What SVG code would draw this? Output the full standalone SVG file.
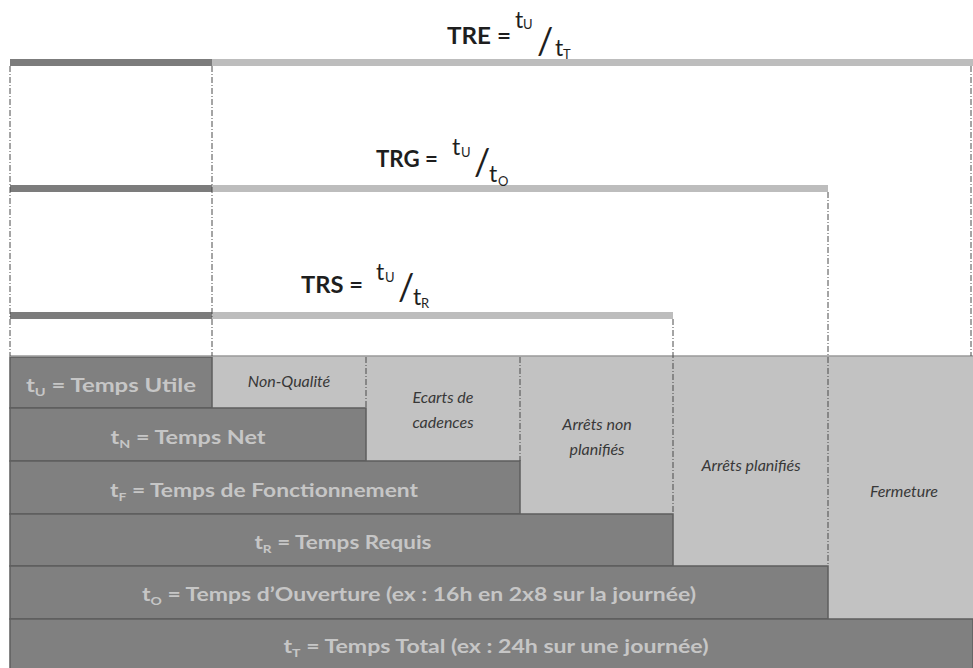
<svg xmlns="http://www.w3.org/2000/svg" width="973" height="668" viewBox="0 0 973 668">
<defs>
<style>
.bg{fill:#ffffff}
.bard{fill:#7c7c7c}
.barl{fill:#bdbdbd}
.dark{fill:#808080;stroke:#5e5e5e;stroke-width:1.5}
.light{fill:#c2c2c2}
.dl{stroke:#4a4a4a;stroke-width:1;stroke-dasharray:6 2 1 2;fill:none}
.lbl{font-family:Lato,"Open Sans","Liberation Sans",sans-serif;font-weight:bold;font-size:18px;fill:#c6c6c6;text-anchor:middle}
.it{font-family:Lato,"Open Sans","Liberation Sans",sans-serif;font-style:italic;font-size:16px;fill:#383838;text-anchor:middle}
.f{font-family:Lato,"Open Sans","Liberation Sans",sans-serif;fill:#1e1e1e}
.fb{font-weight:bold;font-size:22px}
.ft{font-size:23px}
.fs{font-size:13px}
.fsl{font-size:36px}
</style>
</defs>
<rect class="bg" x="0" y="0" width="973" height="668"/>

<g id="tre">
<rect class="bard" x="10" y="59" width="202" height="7"/>
<rect class="barl" x="212" y="59" width="761" height="7"/>
<text class="f fb" x="447" y="44" textLength="64" lengthAdjust="spacingAndGlyphs">TRE =</text>
<text class="f ft" x="515" y="28">t</text><text class="f fs" x="523" y="29">U</text>
<text class="f fsl" x="537" y="54">/</text>
<text class="f ft" x="555" y="56">t</text><text class="f fs" x="563" y="59">T</text>
</g>

<g id="trg">
<rect class="bard" x="10" y="185" width="202" height="7"/>
<rect class="barl" x="212" y="185" width="616" height="7"/>
<text class="f fb" x="376" y="167" textLength="62" lengthAdjust="spacingAndGlyphs">TRG =</text>
<text class="f ft" x="452" y="155">t</text><text class="f fs" x="461" y="157">U</text>
<text class="f fsl" x="474" y="175">/</text>
<text class="f ft" x="489" y="182">t</text><text class="f fs" x="498" y="186">O</text>
</g>

<g id="trs">
<rect class="bard" x="10" y="312" width="202" height="7"/>
<rect class="barl" x="212" y="312" width="461" height="7"/>
<text class="f fb" x="301" y="293" textLength="62" lengthAdjust="spacingAndGlyphs">TRS =</text>
<text class="f ft" x="376" y="280">t</text><text class="f fs" x="385" y="282">U</text>
<text class="f fsl" x="398" y="300">/</text>
<text class="f ft" x="413" y="305">t</text><text class="f fs" x="421" y="308">R</text>
</g>

<g id="fermeture">
<rect class="light" x="828" y="356" width="145" height="263"/>
<text class="it" x="904" y="497">Fermeture</text>
</g>
<g id="arrets-planifies">
<rect class="light" x="673" y="356" width="155" height="210"/>
<text class="it" x="751" y="471">Arrêts planifiés</text>
</g>
<g id="arrets-non-planifies">
<rect class="light" x="520" y="356" width="153" height="158"/>
<text class="it" x="597" y="430">Arrêts non</text>
<text class="it" x="597" y="455">planifiés</text>
</g>
<g id="ecarts-cadences">
<rect class="light" x="366" y="356" width="154" height="105"/>
<text class="it" x="443" y="403">Ecarts de</text>
<text class="it" x="443" y="428">cadences</text>
</g>
<g id="non-qualite">
<rect class="light" x="212" y="356" width="154" height="52"/>
<text class="it" x="289" y="387">Non-Qualité</text>
</g>

<g id="tu">
<rect class="dark" x="10" y="357" width="202" height="51"/>
<text class="lbl" x="111" y="392" textLength="170" lengthAdjust="spacingAndGlyphs">t<tspan font-size="11" dy="4">U</tspan><tspan dy="-4"> = Temps Utile</tspan></text>
</g>
<g id="tn">
<rect class="dark" x="10" y="408" width="356" height="53"/>
<text class="lbl" x="188" y="444" textLength="155" lengthAdjust="spacingAndGlyphs">t<tspan font-size="11" dy="4">N</tspan><tspan dy="-4"> = Temps Net</tspan></text>
</g>
<g id="tf">
<rect class="dark" x="10" y="461" width="510" height="53"/>
<text class="lbl" x="264" y="497" textLength="308" lengthAdjust="spacingAndGlyphs">t<tspan font-size="11" dy="4">F</tspan><tspan dy="-4"> = Temps de Fonctionnement</tspan></text>
</g>
<g id="tr">
<rect class="dark" x="10" y="514" width="663" height="52"/>
<text class="lbl" x="343" y="549" textLength="177" lengthAdjust="spacingAndGlyphs">t<tspan font-size="11" dy="4">R</tspan><tspan dy="-4"> = Temps Requis</tspan></text>
</g>
<g id="to">
<rect class="dark" x="10" y="566" width="818" height="53"/>
<text class="lbl" x="419" y="601" textLength="554" lengthAdjust="spacingAndGlyphs">t<tspan font-size="11" dy="4">O</tspan><tspan dy="-4"> = Temps d’Ouverture (ex : 16h en 2x8 sur la journée)</tspan></text>
</g>
<g id="tt">
<rect class="dark" x="10" y="619" width="963" height="50"/>
<text class="lbl" x="496" y="653" textLength="425" lengthAdjust="spacingAndGlyphs">t<tspan font-size="11" dy="4">T</tspan><tspan dy="-4"> = Temps Total (ex : 24h sur une journée)</tspan></text>
</g>

<g id="connectors">
<line x1="10" y1="356" x2="973" y2="356" stroke="#9a9a9a" stroke-width="1.5"/>
<line class="dl" x1="10" y1="66" x2="10" y2="356"/>
<line class="dl" x1="212" y1="66" x2="212" y2="356"/>
<line class="dl" x1="971" y1="66" x2="971" y2="356"/>
<line class="dl" x1="828" y1="192" x2="828" y2="566"/>
<line class="dl" x1="673" y1="319" x2="673" y2="514"/>
<line class="dl" x1="520" y1="357" x2="520" y2="461"/>
<line class="dl" x1="366" y1="357" x2="366" y2="408"/>
</g>
</svg>
